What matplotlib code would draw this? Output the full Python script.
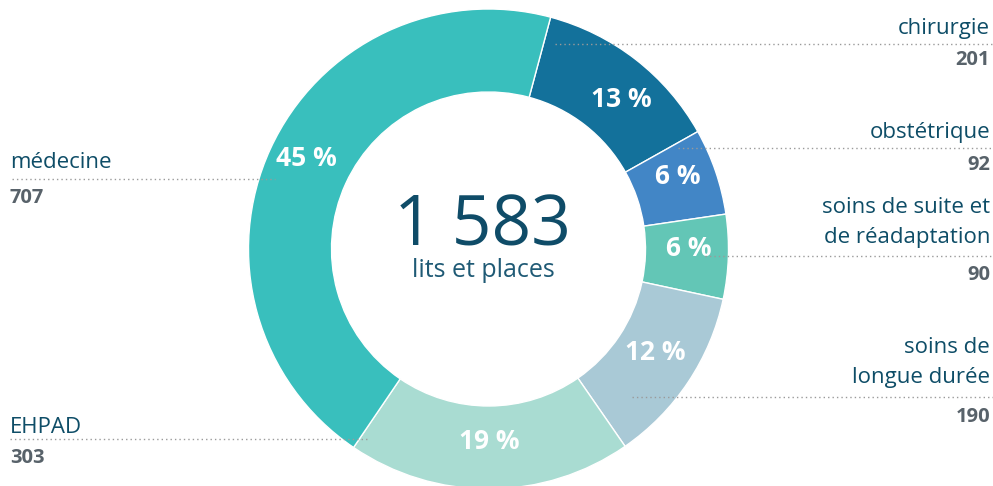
import matplotlib
matplotlib.use("Agg")
import matplotlib.pyplot as plt

# ---- data ----
categories = ["chirurgie", "obstétrique", "soins de suite et\nde réadaptation",
              "soins de\nlongue durée", "EHPAD", "médecine"]
values = [201, 92, 90, 190, 303, 707]
total_label = "1 583"
total_sub = "lits et places"
colors = ["#13719B", "#4286C6", "#63C6B6", "#A9C9D6", "#A9DCD2", "#39BFBD"]

W, H = 993, 486
fig = plt.figure(figsize=(W / 100, H / 100), dpi=100)
ax = fig.add_axes([0, 0, 1, 1])

cx, cy, R = 488.5, H - 249, 240
ring = 240 - 157

def pct_fmt(p):
    return f"{p:.0f} %"

wedges, texts, autotexts = ax.pie(
    values, radius=R, center=(cx, cy), startangle=75.0, counterclock=False,
    colors=colors, autopct=pct_fmt, pctdistance=0.835, frame=True,
    wedgeprops=dict(width=ring, edgecolor="white", linewidth=1.0),
    textprops=dict(color="white", fontsize=19, fontweight="bold", family="Open Sans"))
for t in autotexts:
    t.set_va("baseline")
# small nudge for the chirurgie percentage (pixels: right, down)
x0p, y0p = autotexts[0].get_position()
autotexts[0].set_position((x0p + 10, y0p - 16))

ax.set_xlim(0, W)
ax.set_ylim(0, H)
ax.set_aspect("equal")
ax.axis("off")

def py(y):
    return H - y

label_col = "#0E4D67"
num_col = "#58626A"
dot = dict(color="#9a9a9a", lw=1.0, linestyle=(0, (1, 2.2)), zorder=5)

# centre text
ax.text(482, py(246), total_label, ha="center", va="baseline", fontsize=50,
        color="#0F4C68", family="Open Sans")
ax.text(483, py(277), total_sub, ha="center", va="baseline", fontsize=18,
        color="#1F5A75", family="Open Sans")

# side labels: side, label baseline y, number baseline y, line y, line x0, line x1
layout = {
    "médecine": ("left", 168, 203, 179, 12, 275),
    "EHPAD": ("left", 433, 463, 439, 10, 370),
    "chirurgie": ("right", 34, 65, 44, 555, 993),
    "obstétrique": ("right", 138, 170, 148, 678, 993),
    "soins de suite et\nde réadaptation": ("right", 243, 280, 256, 705, 993),
    "soins de\nlongue durée": ("right", 383, 422, 397, 632, 993),
}
for cat, val in zip(categories, values):
    side, yl, yn, yline, x0, x1 = layout[cat]
    x = 10 if side == "left" else 990
    ha = "left" if side == "left" else "right"
    lines = cat.split("\n")
    for i, ln in enumerate(reversed(lines)):
        ax.text(x, py(yl - 30 * i), ln, ha=ha, va="baseline", fontsize=16,
                color=label_col, family="Open Sans")
    ax.text(x, py(yn), f"{val}", ha=ha, va="baseline", fontsize=14.5,
            fontweight="bold", color=num_col, family="Open Sans")
    ax.plot([x0, x1], [py(yline), py(yline)], **dot)

fig.savefig("out.png", dpi=100)
